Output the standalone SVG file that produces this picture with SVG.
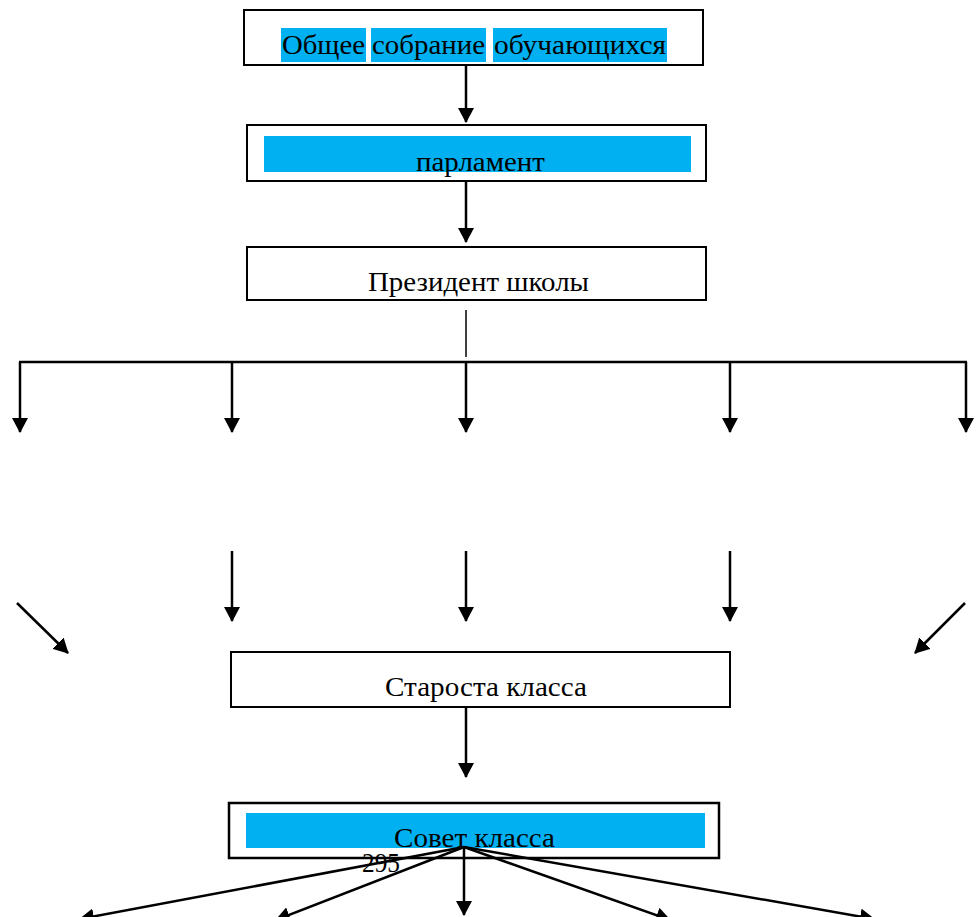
<svg xmlns="http://www.w3.org/2000/svg" width="978" height="917" viewBox="0 0 978 917">
<defs>
<marker id="ah" viewBox="0 0 15 16" refX="14" refY="8" markerWidth="15" markerHeight="16" markerUnits="userSpaceOnUse" orient="auto">
<path d="M0,0 L15,8 L0,16 z" fill="#000"/>
</marker>
</defs>
<style>
.box{fill:#fff;stroke:#000;stroke-width:2}
.hl{fill:#00B0F0}
.t{font-family:"Liberation Serif","Times New Roman",serif;font-size:28px;fill:#000}
.c{stroke:#000;stroke-width:2.5;fill:none}
.ca{stroke:#000;stroke-width:2.5;fill:none;marker-end:url(#ah)}
</style>
<rect width="978" height="917" fill="#fff"/>
<g id="node-obshchee">
<rect class="box" x="244" y="10" width="459" height="55"/>
<rect class="hl" x="281" y="28" width="85" height="34"/>
<rect class="hl" x="371" y="28" width="115" height="34"/>
<rect class="hl" x="493" y="28" width="174" height="34"/>
<text class="t" y="54"><tspan x="282" textLength="83" lengthAdjust="spacingAndGlyphs">Общее</tspan> <tspan x="372" textLength="113" lengthAdjust="spacingAndGlyphs">собрание</tspan> <tspan x="494" textLength="172" lengthAdjust="spacingAndGlyphs">обучающихся</tspan></text>
</g>
<g id="node-parlament">
<rect class="box" x="247" y="125" width="459" height="56"/>
<rect class="hl" x="264" y="136" width="427" height="36"/>
<text class="t" x="416" y="171" textLength="129" lengthAdjust="spacingAndGlyphs">парламент</text>
</g>
<g id="node-president">
<rect class="box" x="247" y="247" width="459" height="53"/>
<text class="t" x="368" y="291" textLength="221" lengthAdjust="spacingAndGlyphs">Президент школы</text>
</g>
<g id="node-starosta">
<rect class="box" x="231" y="652" width="499" height="55"/>
<text class="t" x="385" y="696" textLength="202" lengthAdjust="spacingAndGlyphs">Староста класса</text>
</g>
<g id="node-sovet">
<rect class="box" x="229" y="803" width="490" height="55" style="stroke-width:2.5"/>
<rect class="hl" x="246" y="813" width="459" height="35"/>
<text class="t" x="394" y="847" textLength="161" lengthAdjust="spacingAndGlyphs">Совет класса</text>
</g>
<g id="page-number">
<text class="t" x="362" y="872" textLength="38" lengthAdjust="spacingAndGlyphs">295</text>
</g>
<g id="connectors">
<line class="ca" x1="466" y1="65" x2="466" y2="122"/>
<line class="ca" x1="466" y1="181" x2="466" y2="242"/>
<line x1="466" y1="310" x2="466" y2="357" stroke="#000" stroke-width="1.5"/>
<line class="c" x1="19" y1="362" x2="967" y2="362"/>
<line class="ca" x1="20" y1="362" x2="20" y2="432"/>
<line class="ca" x1="232" y1="362" x2="232" y2="432"/>
<line class="ca" x1="466" y1="362" x2="466" y2="432"/>
<line class="ca" x1="730" y1="362" x2="730" y2="432"/>
<line class="ca" x1="966" y1="362" x2="966" y2="432"/>
<line class="ca" x1="232" y1="551" x2="232" y2="621"/>
<line class="ca" x1="466" y1="551" x2="466" y2="621"/>
<line class="ca" x1="730" y1="551" x2="730" y2="621"/>
<line class="ca" x1="17" y1="603" x2="68" y2="653"/>
<line class="ca" x1="965" y1="603" x2="915" y2="653"/>
<line class="ca" x1="466" y1="707" x2="466" y2="777"/>
<line class="ca" x1="464" y1="847" x2="80" y2="919"/>
<line class="ca" x1="464" y1="847" x2="276" y2="920"/>
<line class="ca" x1="464" y1="847" x2="464" y2="915"/>
<line class="ca" x1="464" y1="847" x2="670" y2="920"/>
<line class="ca" x1="464" y1="847" x2="874" y2="919"/>
</g>
</svg>
